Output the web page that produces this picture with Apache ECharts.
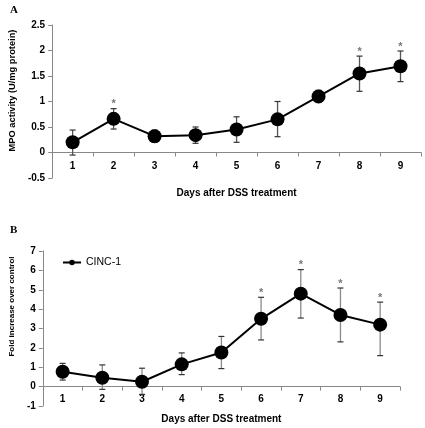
<!DOCTYPE html>
<html><head><meta charset="utf-8">
<script src="https://cdn.jsdelivr.net/npm/echarts@6/dist/echarts.min.js"></script>
<style>html,body{margin:0;padding:0;background:#fff}#c{width:425px;height:428px}</style>
</head><body><div id="c"></div>
<script>
var days = ['1','2','3','4','5','6','7','8','9'];
var mpoMean = [0.2, 0.66, 0.32, 0.34, 0.45, 0.65, 1.1, 1.55, 1.69];
var mpoLow  = [-0.05, 0.46, 0.2, 0.18, 0.2, 0.31, 0.98, 1.2, 1.39];
var mpoHigh = [0.44, 0.86, 0.44, 0.5, 0.7, 1.0, 1.22, 1.89, 1.99];
var mpoSig  = [0, 1, 0, 0, 0, 0, 0, 1, 1];
var cincMean = [0.77, 0.46, 0.25, 1.15, 1.76, 3.5, 4.8, 3.7, 3.2];
var cincLow  = [0.34, -0.14, -0.4, 0.62, 0.93, 2.41, 3.54, 2.31, 1.6];
var cincHigh = [1.2, 1.12, 0.95, 1.74, 2.59, 4.61, 6.04, 5.09, 4.36];
var cincSig  = [0, 0, 0, 0, 0, 1, 1, 1, 1];
var yTicksA = {min: -0.5, max: 2.5, interval: 0.5};
var yTicksB = {min: -1, max: 7, interval: 1};

var FONT = 'Liberation Sans, Arial, sans-serif';
var gridA = {left:43, right:4, top:25, height:153};
var gridB = {left:36, right:25, top:251, height:155};
function errData(lo, hi, sig){ return lo.map(function(v,i){ return [i, v, hi[i], sig[i]]; }); }
function errRender(stemColor){
  return function(params, api){
    var x = api.value(0), lo = api.value(1), hi = api.value(2), sig = api.value(3);
    var pLo = api.coord([x, lo]), pHi = api.coord([x, hi]);
    var w = 3;
    var ch = [
      {type:'line', shape:{x1:pLo[0],y1:pLo[1],x2:pHi[0],y2:pHi[1]}, style:{stroke:stemColor, lineWidth:1.3}},
      {type:'line', shape:{x1:pHi[0]-w,y1:pHi[1],x2:pHi[0]+w,y2:pHi[1]}, style:{stroke:'#333', lineWidth:1.2}},
      {type:'line', shape:{x1:pLo[0]-w,y1:pLo[1],x2:pLo[0]+w,y2:pLo[1]}, style:{stroke:'#333', lineWidth:1.2}}
    ];
    if (sig) ch.push({type:'text', style:{text:'*', x:pHi[0], y:pHi[1]+1, align:'center', verticalAlign:'bottom', fill:'#777', font:'bold 11px ' + FONT}});
    return {type:'group', children: ch};
  };
}
var axisLineStyle = {color:'#888', width:1};
function xAxis(gi, grid, t, gap, margin){
  // place the category axis on the zero line of the value axis
  var off = -grid.height * (0 - t.min) / (t.max - t.min);
  return {type:'category', gridIndex:gi, data:days, boundaryGap:true, offset:off,
    axisLine:{onZero:false, lineStyle:axisLineStyle},
    axisTick:{show:true, length:4, lineStyle:axisLineStyle},
    axisLabel:{color:'#000', fontWeight:'bold', fontSize:10, fontFamily:FONT, margin:margin},
    name:'Days after DSS treatment', nameLocation:'middle', nameGap:gap,
    nameTextStyle:{color:'#000', fontWeight:'bold', fontSize:10, fontFamily:FONT},
    splitLine:{show:false}};
}
function yAxis(gi, t, name, fs, gap, pad){
  return {type:'value', gridIndex:gi, min:t.min, max:t.max, interval:t.interval,
    axisLine:{show:true, onZero:false, lineStyle:axisLineStyle},
    axisTick:{show:true, length:4, lineStyle:axisLineStyle},
    axisLabel:{color:'#000', fontWeight:'bold', fontSize:10, fontFamily:FONT, margin:7},
    splitLine:{show:false},
    name:name, nameLocation:'middle', nameGap:gap,
    nameTextStyle:{color:'#000', fontWeight:'bold', fontSize:fs, fontFamily:FONT, padding:[0,0,0,pad]}};
}
var chart = echarts.init(document.getElementById('c'), null, {renderer:'canvas'});
chart.setOption({
  animation:false,
  backgroundColor:'#fff',
  title:[
    {text:'A', left:5, top:0, textStyle:{fontFamily:'Liberation Serif, Times New Roman, serif', fontWeight:'bold', fontSize:11, color:'#000'}},
    {text:'B', left:5, top:220, textStyle:{fontFamily:'Liberation Serif, Times New Roman, serif', fontWeight:'bold', fontSize:11, color:'#000'}}
  ],
  legend:{data:['CINC-1'], left:62, top:257, padding:0, itemWidth:18, itemHeight:7, itemGap:4,
    textStyle:{color:'#000', fontSize:10.5, fontFamily:FONT}},
  grid:[gridA, gridB],
  xAxis:[xAxis(0, gridA, yTicksA, 36, 9), xAxis(1, gridB, yTicksB, 28, 8)],
  yAxis:[yAxis(0, yTicksA, 'MPO activity (U/mg protein)', 9.3, 24, 22), yAxis(1, yTicksB, 'Fold increase over control', 8, 24, 44)],
  series:[
    {type:'custom', xAxisIndex:0, yAxisIndex:0, data:errData(mpoLow, mpoHigh, mpoSig), renderItem:errRender('#555'), encode:{x:0, y:[1,2]}, z:1, silent:true},
    {type:'line', name:'MPO', xAxisIndex:0, yAxisIndex:0, data:mpoMean, symbol:'circle', symbolSize:14,
      lineStyle:{color:'#000', width:2}, itemStyle:{color:'#000'}, z:3},
    {type:'custom', xAxisIndex:1, yAxisIndex:1, data:errData(cincLow, cincHigh, cincSig), renderItem:errRender('#8a8a8a'), encode:{x:0, y:[1,2]}, z:1, silent:true},
    {type:'line', name:'CINC-1', xAxisIndex:1, yAxisIndex:1, data:cincMean, symbol:'circle', symbolSize:14,
      lineStyle:{color:'#000', width:2}, itemStyle:{color:'#000'}, z:3}
  ]
});
</script></body></html>
